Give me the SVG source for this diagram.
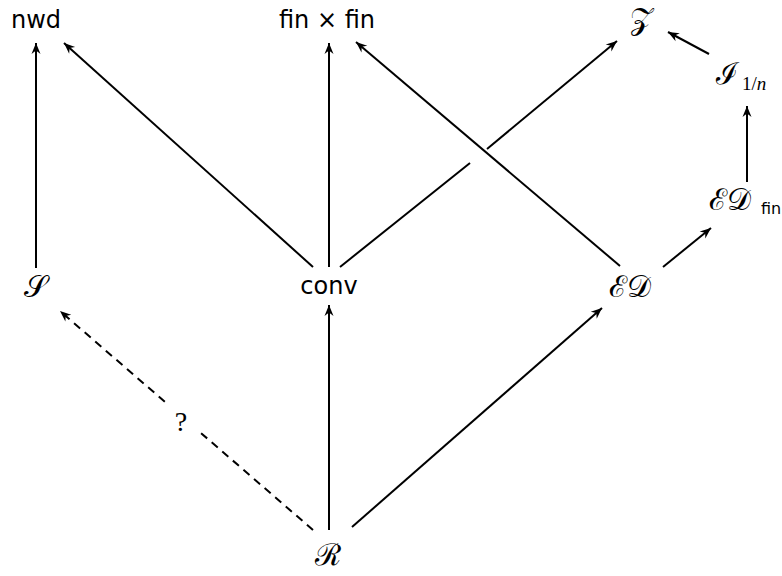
<svg xmlns="http://www.w3.org/2000/svg" width="782" height="576" viewBox="0 0 782 576">
<style>
.t{font-family:"DejaVu Sans","Liberation Sans",sans-serif;font-size:24px;fill:#000}
.m{font-family:"DejaVu Serif","Noto Sans","Liberation Serif",serif;font-size:30px;fill:#000}
.s{font-family:"Liberation Serif",serif;font-size:19px;fill:#000}
.q{font-family:"Liberation Serif",serif;font-size:28px;fill:#000}
.e{stroke:#000;stroke-width:2;fill:none}
.a{marker-end:url(#a)}
.d{stroke-dasharray:8 6}
</style>
<defs>
<marker id="a" markerUnits="userSpaceOnUse" markerWidth="14" markerHeight="12" viewBox="-12 -6 14 12" refX="0" refY="0" orient="auto">
<path d="M0,0 L-11,-4.5 L-7.5,0 L-11,4.5 Z" fill="#000"/>
</marker>
</defs>
<rect width="782" height="576" fill="#fff"/>
<g id="connectors">
<line class="e a" x1="36" y1="268" x2="36" y2="43"/>
<line class="e a" x1="313" y1="267" x2="64" y2="43"/>
<line class="e a" x1="329" y1="267" x2="329" y2="43"/>
<line class="e" x1="340" y1="267" x2="470" y2="163"/>
<line class="e a" x1="487" y1="149" x2="617" y2="41"/>
<line class="e a" x1="620" y1="266" x2="356" y2="42"/>
<line class="e a" x1="663" y1="267" x2="711" y2="228"/>
<line class="e a" x1="747" y1="182" x2="747" y2="106"/>
<line class="e a" x1="709" y1="54" x2="668" y2="32"/>
<line class="e a" x1="329" y1="530" x2="329" y2="305"/>
<line class="e a" x1="352" y1="527" x2="602" y2="308"/>
<line class="e a d" x1="313" y1="530" x2="60" y2="311"/>
</g>
<g id="node-nwd"><text class="t" x="36" y="28" text-anchor="middle">nwd</text></g>
<g id="node-finfin"><text class="t" x="327" y="28" text-anchor="middle">fin × fin</text></g>
<g id="node-Z"><text class="m" x="641" y="29" text-anchor="middle">𝒵</text></g>
<g id="node-I"><text class="m" x="716" y="84">ℐ</text><text class="s" x="742" y="90">1/<tspan font-style="italic">n</tspan></text></g>
<g id="node-EDfin"><text class="m" x="709" y="210">ℰ𝒟</text><text class="t" x="761" y="214" style="font-size:16px">fin</text></g>
<g id="node-S"><text class="m" x="35" y="297" text-anchor="middle">𝒮</text></g>
<g id="node-conv"><text class="t" x="329" y="294" text-anchor="middle">conv</text></g>
<g id="node-ED"><text class="m" x="630" y="297" text-anchor="middle">ℰ𝒟</text></g>
<g id="node-R"><text class="m" x="328" y="565" text-anchor="middle">ℛ</text></g>
<g id="label-q"><rect x="165" y="402" width="34" height="36" fill="#fff"/><text class="q" x="181" y="431" text-anchor="middle">?</text></g>
</svg>
